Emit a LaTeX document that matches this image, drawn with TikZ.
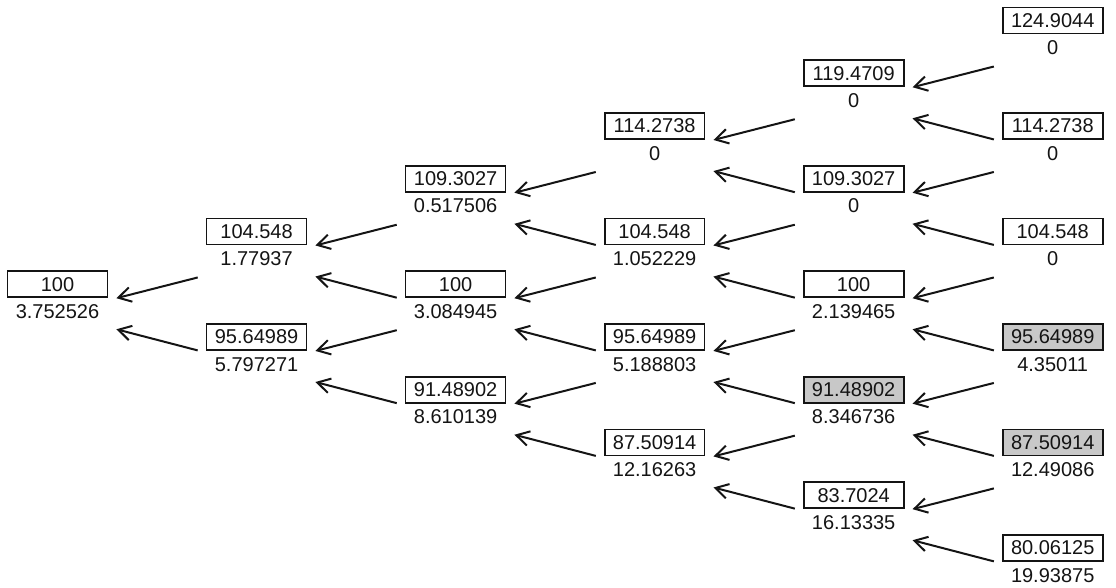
\documentclass[tikz,border=0pt]{standalone}
\usepackage{fontspec}
\setmainfont{Liberation Sans}
\usepackage{tikz}
\usetikzlibrary{positioning, arrows.meta}
\definecolor{inkBlack}{HTML}{141414}
\definecolor{hitGrey}{HTML}{C8C8C8}
\tikzset{
  box/.style = {draw=inkBlack, line width=1.3pt, fill=white, minimum width=75pt,
                minimum height=19.5pt, inner sep=0pt, text=inkBlack,
                font=\fontsize{15}{15}\selectfont},
  ex/.style  = {fill=hitGrey},
  val/.style = {inner sep=0pt, text=inkBlack, font=\fontsize{15}{15}\selectfont},
  fl/.style  = {-{Straight Barb[length=9.5pt,width=11pt]}, draw=inkBlack, line width=1.5pt}
}

\begin{document}
\begin{tikzpicture}[x=149.3pt, y=39.56pt]
  \useasboundingbox (-0.289,5.389) rectangle (5.318,-5.758);
  % step 0
  \node[box] (s00) at (0,0) {100};
  \node[val, below=4.5pt of s00] (p00) {3.752526};
  % step 1
  \node[box] (s10) at (1,1) {104.548};
  \node[val, below=4.5pt of s10] (p10) {1.77937};
  \node[box] (s11) at (1,-1) {95.64989};
  \node[val, below=4.5pt of s11] (p11) {5.797271};
  % step 2
  \node[box] (s20) at (2,2) {109.3027};
  \node[val, below=4.5pt of s20] (p20) {0.517506};
  \node[box] (s21) at (2,0) {100};
  \node[val, below=4.5pt of s21] (p21) {3.084945};
  \node[box] (s22) at (2,-2) {91.48902};
  \node[val, below=4.5pt of s22] (p22) {8.610139};
  % step 3
  \node[box] (s30) at (3,3) {114.2738};
  \node[val, below=4.5pt of s30] (p30) {0};
  \node[box] (s31) at (3,1) {104.548};
  \node[val, below=4.5pt of s31] (p31) {1.052229};
  \node[box] (s32) at (3,-1) {95.64989};
  \node[val, below=4.5pt of s32] (p32) {5.188803};
  \node[box] (s33) at (3,-3) {87.50914};
  \node[val, below=4.5pt of s33] (p33) {12.16263};
  % step 4
  \node[box] (s40) at (4,4) {119.4709};
  \node[val, below=4.5pt of s40] (p40) {0};
  \node[box] (s41) at (4,2) {109.3027};
  \node[val, below=4.5pt of s41] (p41) {0};
  \node[box] (s42) at (4,0) {100};
  \node[val, below=4.5pt of s42] (p42) {2.139465};
  \node[box, ex] (s43) at (4,-2) {91.48902};
  \node[val, below=4.5pt of s43] (p43) {8.346736};
  \node[box] (s44) at (4,-4) {83.7024};
  \node[val, below=4.5pt of s44] (p44) {16.13335};
  % step 5
  \node[box] (s50) at (5,5) {124.9044};
  \node[val, below=4.5pt of s50] (p50) {0};
  \node[box] (s51) at (5,3) {114.2738};
  \node[val, below=4.5pt of s51] (p51) {0};
  \node[box] (s52) at (5,1) {104.548};
  \node[val, below=4.5pt of s52] (p52) {0};
  \node[box, ex] (s53) at (5,-1) {95.64989};
  \node[val, below=4.5pt of s53] (p53) {4.35011};
  \node[box, ex] (s54) at (5,-3) {87.50914};
  \node[val, below=4.5pt of s54] (p54) {12.49086};
  \node[box] (s55) at (5,-5) {80.06125};
  \node[val, below=4.5pt of s55] (p55) {19.93875};
  % rolling back
  \draw[fl] ([shift={(-6pt,-34.5pt)}]s10.west) -- ([shift={(6pt,-10.5pt)}]s00.east);
  \draw[fl] ([shift={(-6pt,-10.1pt)}]s11.west) -- ([shift={(6pt,-33.8pt)}]s00.east);
  \draw[fl] ([shift={(-6pt,-34.5pt)}]s20.west) -- ([shift={(6pt,-10.5pt)}]s10.east);
  \draw[fl] ([shift={(-6pt,-10.1pt)}]s21.west) -- ([shift={(6pt,-33.8pt)}]s10.east);
  \draw[fl] ([shift={(-6pt,-34.5pt)}]s21.west) -- ([shift={(6pt,-10.5pt)}]s11.east);
  \draw[fl] ([shift={(-6pt,-10.1pt)}]s22.west) -- ([shift={(6pt,-33.8pt)}]s11.east);
  \draw[fl] ([shift={(-6pt,-34.5pt)}]s30.west) -- ([shift={(6pt,-10.5pt)}]s20.east);
  \draw[fl] ([shift={(-6pt,-10.1pt)}]s31.west) -- ([shift={(6pt,-33.8pt)}]s20.east);
  \draw[fl] ([shift={(-6pt,-34.5pt)}]s31.west) -- ([shift={(6pt,-10.5pt)}]s21.east);
  \draw[fl] ([shift={(-6pt,-10.1pt)}]s32.west) -- ([shift={(6pt,-33.8pt)}]s21.east);
  \draw[fl] ([shift={(-6pt,-34.5pt)}]s32.west) -- ([shift={(6pt,-10.5pt)}]s22.east);
  \draw[fl] ([shift={(-6pt,-10.1pt)}]s33.west) -- ([shift={(6pt,-33.8pt)}]s22.east);
  \draw[fl] ([shift={(-6pt,-34.5pt)}]s40.west) -- ([shift={(6pt,-10.5pt)}]s30.east);
  \draw[fl] ([shift={(-6pt,-10.1pt)}]s41.west) -- ([shift={(6pt,-33.8pt)}]s30.east);
  \draw[fl] ([shift={(-6pt,-34.5pt)}]s41.west) -- ([shift={(6pt,-10.5pt)}]s31.east);
  \draw[fl] ([shift={(-6pt,-10.1pt)}]s42.west) -- ([shift={(6pt,-33.8pt)}]s31.east);
  \draw[fl] ([shift={(-6pt,-34.5pt)}]s42.west) -- ([shift={(6pt,-10.5pt)}]s32.east);
  \draw[fl] ([shift={(-6pt,-10.1pt)}]s43.west) -- ([shift={(6pt,-33.8pt)}]s32.east);
  \draw[fl] ([shift={(-6pt,-34.5pt)}]s43.west) -- ([shift={(6pt,-10.5pt)}]s33.east);
  \draw[fl] ([shift={(-6pt,-10.1pt)}]s44.west) -- ([shift={(6pt,-33.8pt)}]s33.east);
  \draw[fl] ([shift={(-6pt,-34.5pt)}]s50.west) -- ([shift={(6pt,-10.5pt)}]s40.east);
  \draw[fl] ([shift={(-6pt,-10.1pt)}]s51.west) -- ([shift={(6pt,-33.8pt)}]s40.east);
  \draw[fl] ([shift={(-6pt,-34.5pt)}]s51.west) -- ([shift={(6pt,-10.5pt)}]s41.east);
  \draw[fl] ([shift={(-6pt,-10.1pt)}]s52.west) -- ([shift={(6pt,-33.8pt)}]s41.east);
  \draw[fl] ([shift={(-6pt,-34.5pt)}]s52.west) -- ([shift={(6pt,-10.5pt)}]s42.east);
  \draw[fl] ([shift={(-6pt,-10.1pt)}]s53.west) -- ([shift={(6pt,-33.8pt)}]s42.east);
  \draw[fl] ([shift={(-6pt,-34.5pt)}]s53.west) -- ([shift={(6pt,-10.5pt)}]s43.east);
  \draw[fl] ([shift={(-6pt,-10.1pt)}]s54.west) -- ([shift={(6pt,-33.8pt)}]s43.east);
  \draw[fl] ([shift={(-6pt,-34.5pt)}]s54.west) -- ([shift={(6pt,-10.5pt)}]s44.east);
  \draw[fl] ([shift={(-6pt,-10.1pt)}]s55.west) -- ([shift={(6pt,-33.8pt)}]s44.east);
\end{tikzpicture}
\end{document}
